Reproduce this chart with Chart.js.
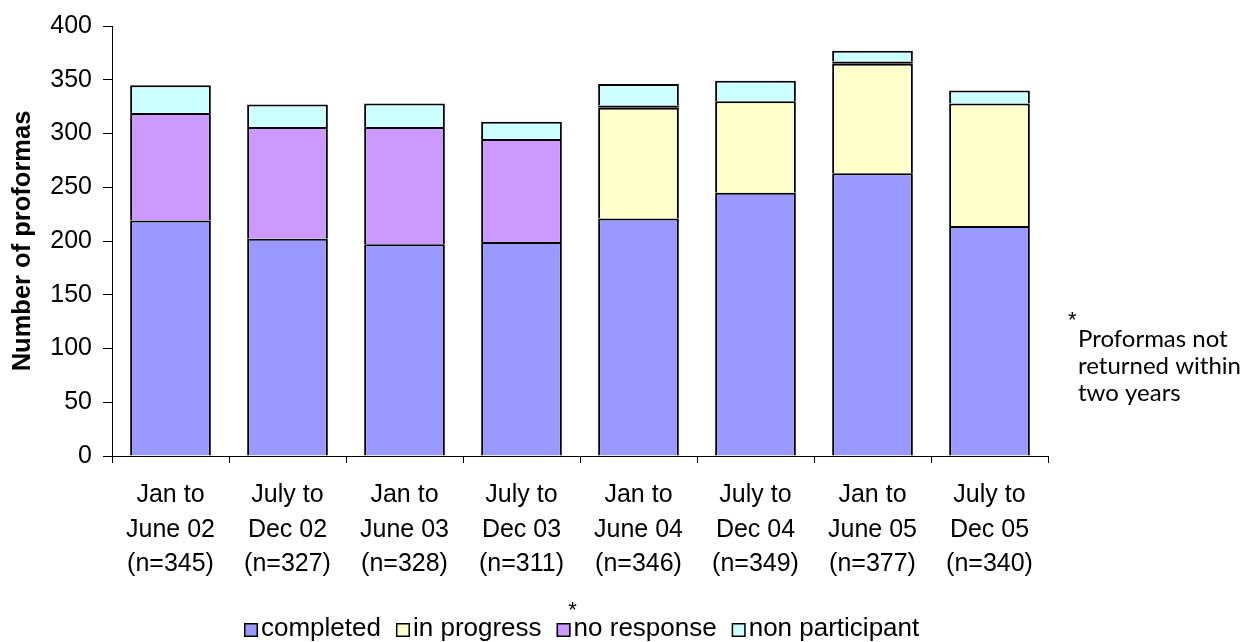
<!DOCTYPE html>
<html>
<head>
<meta charset="utf-8">
<script src="https://cdn.jsdelivr.net/npm/chart.js@4/dist/chart.umd.min.js"></script>
<style>
  html, body { margin: 0; padding: 0; background: #fff; }
  #wrap { width: 1251px; height: 642px; }
</style>
</head>
<body>
<div id="wrap"><canvas id="c" width="1251" height="642"></canvas></div>
<script>
// Half-year reporting periods (three-line category labels)
const periods = [
  ['Jan to', 'June 02', '(n=345)'],
  ['July to', 'Dec 02', '(n=327)'],
  ['Jan to', 'June 03', '(n=328)'],
  ['July to', 'Dec 03', '(n=311)'],
  ['Jan to', 'June 04', '(n=346)'],
  ['July to', 'Dec 04', '(n=349)'],
  ['Jan to', 'June 05', '(n=377)'],
  ['July to', 'Dec 05', '(n=340)']
];

// Proforma counts per status
const completed      = [219, 202, 197, 199, 221, 245, 263, 214];
const inProgress     = [null, null, null, null, 103, 85, 102, 114];
const noResponse     = [100, 104, 109, 96, 2, null, 2, null];
const nonParticipant = [26, 21, 22, 16, 20, 19, 10, 12];

const seriesNames  = ['completed', 'in progress', 'no response', 'non participant'];
const seriesColors = ['#9999FF', '#FFFFCC', '#CC99FF', '#CCFFFF'];

const yTicks = { min: 0, max: 400, step: 50 };

const FONT = '"Liberation Sans", Arial, sans-serif';

// Legend row under the chart, with an asterisk over the "no response" key
const legendRow = {
  id: 'legendRow',
  afterDraw(chart) {
    const ctx = chart.ctx;
    ctx.save();
    const font = '26px ' + FONT;
    ctx.font = font;
    const box = 14, gapBox = 3, gapItem = 15;
    const items = chart.data.datasets.map(d => ({
      label: d.label, color: d.backgroundColor,
      w: box + gapBox + ctx.measureText(d.label).width
    }));
    const total = items.reduce((s, it) => s + it.w, 0) + gapItem * (items.length - 1);
    let x = Math.round(582 - total / 2);
    const cy = 629;
    items.forEach((it, i) => {
      ctx.fillStyle = it.color;
      ctx.fillRect(x, cy - box / 2 + 1, box, box);
      ctx.strokeStyle = '#000';
      ctx.lineWidth = 1.5;
      ctx.strokeRect(x + 0.75, cy - box / 2 + 1.75, box - 1.5, box - 1.5);
      if (i === 2) {
        ctx.fillStyle = '#000';
        ctx.textAlign = 'center';
        ctx.textBaseline = 'middle';
        ctx.font = '22px ' + FONT;
        ctx.fillText('*', x + box + 2, cy - 18);
        ctx.font = font;
      }
      ctx.fillStyle = '#000';
      ctx.textAlign = 'left';
      ctx.textBaseline = 'middle';
      ctx.fillText(it.label, x + box + gapBox, cy);
      x += it.w + gapItem;
    });
    ctx.restore();
  }
};

// Footnote explaining the asterisk
const footnote = {
  id: 'footnote',
  afterDraw(chart) {
    const ctx = chart.ctx;
    ctx.save();
    ctx.fillStyle = '#000';
    ctx.textBaseline = 'alphabetic';
    ctx.textAlign = 'left';
    ctx.font = '22px ' + FONT;
    ctx.fillText('*', 1068, 327);
    ctx.font = '24px Lato, "Open Sans", sans-serif';
    ctx.fillText('Proformas not', 1078, 347);
    ctx.fillText('returned within', 1078, 374);
    ctx.fillText('two years', 1078, 401);
    ctx.restore();
  }
};

const seriesData = [completed, inProgress, noResponse, nonParticipant];

new Chart(document.getElementById('c'), {
  type: 'bar',
  data: {
    labels: periods,
    datasets: seriesData.map((d, i) => ({
      label: seriesNames[i],
      data: d,
      backgroundColor: seriesColors[i],
      borderColor: '#000',
      borderWidth: 2,
      // very thin segments get a full outline so they read as a solid dark band
      borderSkipped: (c) => (c.raw !== null && c.raw < 5) ? false : 'start',
      barPercentage: 0.69,
      categoryPercentage: 1.0
    }))
  },
  options: {
    responsive: false,
    animation: false,
    devicePixelRatio: 1,
    layout: { padding: { left: 0, right: 203, top: 25, bottom: 56 } },
    plugins: {
      legend: { display: false },
      tooltip: { enabled: false }
    },
    scales: {
      x: {
        stacked: true,
        afterFit(scale) { scale.height = 130; },
        grid: {
          offset: true,
          drawOnChartArea: false,
          drawTicks: true,
          tickLength: 7,
          color: '#000',
          lineWidth: 1
        },
        border: { color: '#000', width: 1 },
        ticks: {
          color: '#000',
          font: { family: FONT, size: 25, lineHeight: 1.38 },
          padding: 15,
          maxRotation: 0,
          autoSkip: false
        }
      },
      y: {
        stacked: true,
        min: yTicks.min,
        max: yTicks.max,
        afterFit(scale) { scale.width = 112; },
        grid: {
          drawOnChartArea: false,
          drawTicks: true,
          tickLength: 9,
          color: '#000',
          lineWidth: 1
        },
        border: { color: '#000', width: 1 },
        ticks: {
          stepSize: yTicks.step,
          color: '#000',
          font: { family: FONT, size: 25 },
          padding: 11
        },
        title: {
          display: true,
          text: 'Number of proformas',
          color: '#000',
          font: { family: FONT, size: 25.5, weight: 'bold' },
          padding: { top: 8, bottom: 0 }
        }
      }
    }
  },
  plugins: [legendRow, footnote]
});
</script>
</body>
</html>
